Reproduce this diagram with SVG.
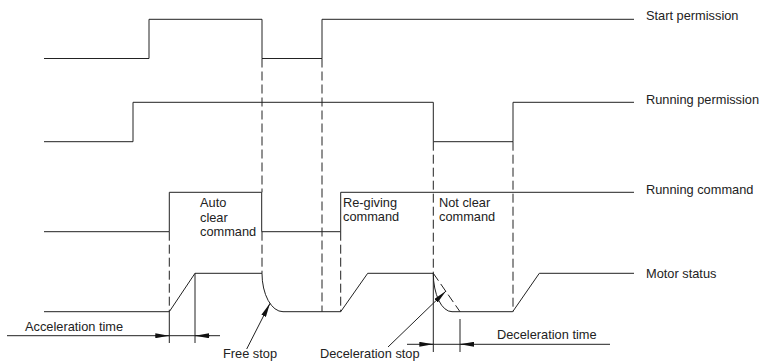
<svg xmlns="http://www.w3.org/2000/svg" width="760" height="361" viewBox="0 0 760 361">
<style>
.sig{fill:none;stroke:#222;stroke-width:1}
.dash{fill:none;stroke:#222;stroke-width:1;stroke-dasharray:9 4}
.dim{fill:none;stroke:#222;stroke-width:1}
text{font-family:"Liberation Sans",Arial,sans-serif;font-size:12.8px;fill:#222}
</style>
<defs>
<marker id="ah" viewBox="0 0 14 5" refX="14" refY="2.5" markerWidth="14" markerHeight="5" markerUnits="userSpaceOnUse" orient="auto">
<path d="M0,0 L14,2.5 L0,5 z" fill="#111"/>
</marker>
</defs>
<rect width="760" height="361" fill="#fff"/>
<g id="start-permission">
<path class="sig" d="M44,58.5 H149 V19.3 H262 V58.5 H322 V19.3 H634"/>
<text x="646" y="20">Start permission</text>
</g>
<g id="running-permission">
<path class="sig" d="M44,141.7 H133 V102.3 H433.3 V141.7 H513 V102.3 H634"/>
<text x="646" y="104">Running permission</text>
</g>
<g id="running-command">
<path class="sig" d="M44,231.7 H169.3 V192.3 H261.7 V231.7 H340.7 V192.3 H634"/>
<text x="646" y="194">Running command</text>
<text x="200" y="207">Auto</text>
<text x="200" y="221.5">clear</text>
<text x="200" y="236">command</text>
<text x="343" y="207">Re-giving</text>
<text x="343" y="221">command</text>
<text x="439" y="207">Not clear</text>
<text x="439" y="221">command</text>
</g>
<g id="motor-status">
<path class="sig" d="M44,311.7 H169.3 L195,273.3 H262 A21,38.4 0 0 0 283,311.7 H340.7 L367.7,273.3 H433.3 A18.7,38.4 0 0 0 452,311.7 H512.7 L539.3,273.3 H634"/>
<path class="dash" d="M433.3,273.3 L460,311.7"/>
<text x="646" y="278">Motor status</text>
</g>
<g id="connectors">
<path class="dash" d="M262,58.5 V192.3 M262,231.7 V273.3"/>
<path class="dash" d="M322,58.5 V311.7"/>
<path class="dash" d="M169.3,231.7 V311.7"/>
<path class="dash" d="M340.7,231.7 V311.7"/>
<path class="dash" d="M433.3,141.7 V273.3"/>
<path class="dash" d="M513,141.7 V311.7"/>
</g>
<g id="acceleration-time">
<path class="dim" d="M7,335.7 H220 M169.3,311.7 V343 M195,273.3 V343"/>
<line class="dim" x1="155" y1="335.7" x2="169.3" y2="335.7" marker-end="url(#ah)"/>
<line class="dim" x1="210" y1="335.7" x2="195" y2="335.7" marker-end="url(#ah)"/>
<text x="25" y="330.5">Acceleration time</text>
</g>
<g id="deceleration-time">
<path class="dim" d="M407,344.3 H610 M433.3,273.3 V352 M460,319 V352"/>
<line class="dim" x1="420" y1="344.3" x2="433.3" y2="344.3" marker-end="url(#ah)"/>
<line class="dim" x1="474" y1="344.3" x2="460" y2="344.3" marker-end="url(#ah)"/>
<text x="497" y="339">Deceleration time</text>
</g>
<g id="free-stop">
<line class="dim" x1="246.7" y1="349" x2="270" y2="303.3" marker-end="url(#ah)"/>
<text x="223" y="358">Free stop</text>
</g>
<g id="deceleration-stop">
<line class="dim" x1="388" y1="347" x2="446" y2="291" marker-end="url(#ah)"/>
<text x="320" y="358">Deceleration stop</text>
</g>
</svg>
